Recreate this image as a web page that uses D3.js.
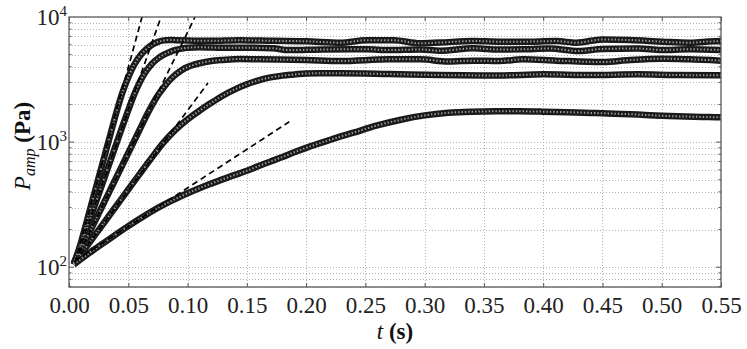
<!DOCTYPE html>
<html>
<head>
<meta charset="utf-8">
<script src="https://cdnjs.cloudflare.com/ajax/libs/d3/7.8.5/d3.min.js"></script>
<style>
  body { margin: 0; background: #fff; }
  svg { display: block; }
  .serif { font-family: "Liberation Serif", "DejaVu Serif", serif; }
</style>
</head>
<body>
<svg id="chart"></svg>
<script>
// tick values
const xTicks = [0, 0.05, 0.10, 0.15, 0.20, 0.25, 0.30, 0.35, 0.40, 0.45, 0.50, 0.55];
const yTicks = [100, 1000, 10000];

const run1 = [[0.004,105],[0.010,156],[0.015,233],[0.020,348],[0.025,520],[0.030,776],[0.035,1160],
  [0.040,1730],[0.045,2480],[0.050,3300],[0.055,4150],[0.060,4900],[0.065,5500],[0.070,6000],
  [0.075,6330],[0.080,6500],[0.085,6560],[0.090,6530],[0.100,6490],[0.120,6450],[0.144,6520],
  [0.172,6450],[0.200,6400],[0.229,6230],[0.251,6520],[0.274,6520],[0.296,6160],[0.313,6250],
  [0.341,6430],[0.363,6350],[0.383,6350],[0.411,6420],[0.428,6230],[0.450,6620],[0.473,6550],
  [0.501,6350],[0.523,6230],[0.537,6350],[0.550,6420]];

const run2 = [[0.004,107],[0.010,150],[0.015,205],[0.020,280],[0.025,382],[0.030,522],[0.035,713],
  [0.040,975],[0.045,1330],[0.050,1800],[0.055,2400],[0.060,3050],[0.065,3680],[0.070,4230],
  [0.075,4660],[0.080,5000],[0.085,5260],[0.090,5450],[0.095,5590],[0.100,5680],[0.110,5730],
  [0.130,5680],[0.144,5680],[0.172,5620],[0.185,5440],[0.214,5500],[0.251,5530],[0.270,5440],
  [0.296,5500],[0.313,5375],[0.341,5620],[0.363,5500],[0.383,5520],[0.405,5600],[0.430,5345],
  [0.450,5560],[0.480,5600],[0.500,5450],[0.523,5520],[0.550,5450]];

const run3 = [[0.004,107],[0.010,137],[0.015,171],[0.020,214],[0.025,268],[0.030,335],[0.035,419],
  [0.040,524],[0.045,655],[0.050,818],[0.055,1023],[0.060,1280],[0.065,1600],[0.070,1970],
  [0.075,2370],[0.080,2750],[0.085,3130],[0.090,3470],[0.095,3760],[0.100,3980],[0.105,4140],
  [0.110,4270],[0.115,4370],[0.120,4450],[0.130,4540],[0.144,4620],[0.160,4590],[0.200,4530],
  [0.229,4450],[0.270,4590],[0.296,4590],[0.320,4410],[0.341,4480],[0.363,4450],[0.383,4590],
  [0.411,4480],[0.450,4365],[0.473,4530],[0.501,4640],[0.523,4590],[0.550,4480]];

const run4 = [[0.004,107],[0.010,127],[0.020,171],[0.030,230],[0.040,310],[0.050,418],[0.060,563],
  [0.070,755],[0.080,1000],[0.090,1260],[0.100,1520],[0.110,1780],[0.120,2060],[0.130,2360],
  [0.140,2640],[0.150,2900],[0.160,3120],[0.170,3290],[0.180,3400],[0.190,3470],[0.200,3540],
  [0.229,3550],[0.270,3500],[0.313,3435],[0.363,3410],[0.400,3480],[0.440,3440],[0.480,3480],
  [0.510,3440],[0.550,3420]];

const run5 = [[0.004,105],[0.010,116],[0.020,136],[0.030,158],[0.040,184],[0.050,213],[0.060,245],
  [0.070,280],[0.080,316],[0.090,352],[0.100,390],[0.110,428],[0.120,466],[0.130,506],[0.140,547],
  [0.150,590],[0.160,645],[0.170,700],[0.180,760],[0.190,830],[0.200,900],[0.220,1040],
  [0.240,1190],[0.260,1360],[0.280,1510],[0.300,1635],[0.320,1715],[0.340,1750],[0.360,1762],
  [0.380,1762],[0.400,1752],[0.420,1735],[0.440,1712],[0.460,1688],[0.480,1660],[0.500,1625],
  [0.520,1600],[0.540,1585],[0.550,1578]];

// exponential growth fits (dashed), start and end points
const fit1 = [[0.005,107],[0.0616,10000]];
const fit2 = [[0.005,110],[0.0776,10000]];
const fit3 = [[0.005,110],[0.1063,10000]];
const fit4 = [[0.005,110],[0.1172,2966]];
const fit5 = [[0.005,112],[0.1858,1453]];

const runs = [run5, run4, run3, run2, run1];
const fits = [fit1, fit2, fit3, fit4, fit5];

const W = 747, H = 349;
const margin = {top: 17, right: 26, bottom: 62, left: 69};

const svg = d3.select('#chart').attr('width', W).attr('height', H);
svg.append('rect').attr('width', W).attr('height', H).attr('fill', '#fff');

const x = d3.scaleLinear([0, 0.55], [margin.left, W - margin.right]);
const y = d3.scaleLog([69.5, 10000], [H - margin.bottom, margin.top]);

svg.append('clipPath').attr('id', 'clip')
  .append('rect')
    .attr('x', x(0)).attr('y', y(10000))
    .attr('width', x(0.55) - x(0)).attr('height', y(69.5) - y(10000));

// grid
const grid = svg.append('g')
  .attr('stroke', '#a0a0a0')
  .attr('stroke-width', 0.8)
  .attr('stroke-dasharray', '1,2');

grid.selectAll('line.gx')
  .data(xTicks.slice(1, -1))
  .join('line')
    .attr('x1', d => Math.round(x(d)) + 0.5).attr('x2', d => Math.round(x(d)) + 0.5)
    .attr('y1', y.range()[0]).attr('y2', y.range()[1]);

grid.selectAll('line.gy')
  .data(y.ticks().filter(d => d > 69.5 && d < 10000))
  .join('line')
    .attr('x1', x.range()[0]).attr('x2', x.range()[1])
    .attr('y1', d => Math.round(y(d)) + 0.5).attr('y2', d => Math.round(y(d)) + 0.5);

// data curves: dark band of open markers
const line = d3.line()
  .x(d => x(d[0]))
  .y(d => y(d[1]))
  .curve(d3.curveMonotoneX);

const curves = svg.append('g').attr('clip-path', 'url(#clip)').attr('fill', 'none');

curves.selectAll('path.band')
  .data(runs)
  .join('path')
    .attr('class', 'band')
    .attr('d', line)
    .attr('stroke', '#1a1a1a')
    .attr('stroke-width', 6.5)
    .attr('stroke-linejoin', 'round');

curves.selectAll('path.ring')
  .data(runs)
  .join('path')
    .attr('class', 'ring')
    .attr('d', line)
    .attr('stroke', '#9a9a9a')
    .attr('stroke-width', 2)
    .attr('stroke-dasharray', '1.4,2');

// fits
const fitLine = d3.line().x(d => x(d[0])).y(d => y(d[1]));
svg.append('g').attr('clip-path', 'url(#clip)')
  .selectAll('path')
  .data(fits)
  .join('path')
    .attr('d', fitLine)
    .attr('fill', 'none')
    .attr('stroke', '#000')
    .attr('stroke-width', 1.7)
    .attr('stroke-dasharray', '6,4');

// frame
svg.append('rect')
  .attr('x', x(0)).attr('y', y(10000))
  .attr('width', x(0.55) - x(0)).attr('height', y(69.5) - y(10000))
  .attr('fill', 'none')
  .attr('stroke', '#5a5a5a')
  .attr('stroke-width', 1.3);

// x axis
const xAxis = svg.append('g')
  .attr('transform', `translate(0,${y.range()[0]})`)
  .call(d3.axisBottom(x).tickValues(xTicks).tickFormat(d3.format('.2f')).tickSize(-4).tickPadding(10));
xAxis.select('.domain').remove();
xAxis.selectAll('line').attr('stroke', '#555');
xAxis.selectAll('text')
  .attr('class', 'serif')
  .style('font-family', '"Liberation Serif", "DejaVu Serif", serif')
  .style('font-size', '23px')
  .attr('fill', '#222');

const xTop = svg.append('g')
  .attr('transform', `translate(0,${y.range()[1]})`)
  .call(d3.axisTop(x).tickValues(xTicks).tickFormat('').tickSize(-4));
xTop.select('.domain').remove();
xTop.selectAll('line').attr('stroke', '#555');

// y axis ticks (major and minor, both sides)
const yMinor = y.ticks().filter(d => d > 69.5 && d < 10000);
[[x.range()[0], 1], [x.range()[1], -1]].forEach(([x0, dir]) => {
  svg.append('g').selectAll('line')
    .data(yMinor)
    .join('line')
      .attr('x1', x0).attr('x2', d => x0 + dir * (yTicks.includes(d) ? 5 : 2.5))
      .attr('y1', d => y(d)).attr('y2', d => y(d))
      .attr('stroke', '#555').attr('stroke-width', 1);
});

const yLab = svg.append('g')
  .attr('class', 'serif')
  .attr('fill', '#222')
  .attr('text-anchor', 'end');
yLab.selectAll('text')
  .data(yTicks)
  .join('text')
    .attr('x', x.range()[0] - 2)
    .attr('y', d => y(d) + 8)
    .style('font-size', '23px')
    .call(t => t.append('tspan').text('10'))
    .call(t => t.append('tspan')
      .style('font-size', '15px')
      .attr('dy', -9)
      .text(d => Math.round(Math.log10(d))));

// axis titles
svg.append('text')
  .attr('class', 'serif')
  .attr('x', (x.range()[0] + x.range()[1]) / 2)
  .attr('y', 339)
  .attr('text-anchor', 'middle')
  .style('font-size', '23px')
  .attr('fill', '#111')
  .call(t => t.append('tspan').attr('font-style', 'italic').text('t'))
  .call(t => t.append('tspan').attr('font-weight', 'bold').text(' (s)'));

svg.append('text')
  .attr('class', 'serif')
  .attr('transform', `translate(30,${(y.range()[0] + y.range()[1]) / 2 - 6}) rotate(-90)`)
  .attr('text-anchor', 'middle')
  .style('font-size', '23px')
  .attr('fill', '#111')
  .call(t => t.append('tspan').attr('font-style', 'italic').text('P'))
  .call(t => t.append('tspan').attr('font-style', 'italic').style('font-size', '16px').attr('dy', 5).text('amp'))
  .call(t => t.append('tspan').attr('font-weight', 'bold').attr('dy', -5).text(' (Pa)'));
</script>
</body>
</html>
